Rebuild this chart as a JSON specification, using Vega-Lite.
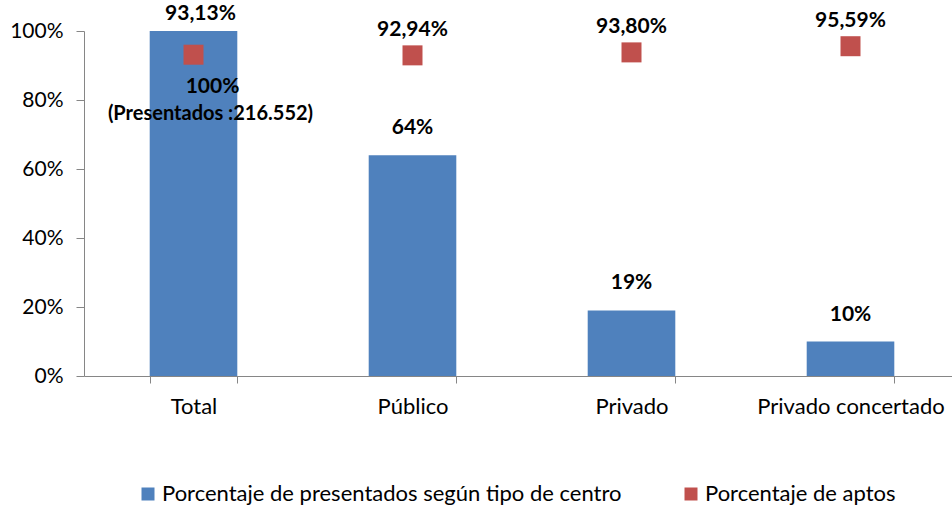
{
  "$schema": "https://vega.github.io/schema/vega-lite/v6.json",
  "width": 876,
  "height": 345,
  "autosize": {"type": "none"},
  "padding": {"left": 84, "top": 31, "right": 0, "bottom": 135},
  "background": "white",
  "config": {
    "view": {"stroke": null},
    "font": "Lato",
    "locale": {"number": {"decimal": ",", "thousands": ".", "grouping": [3], "currency": ["", " €"]}}
  },
  "data": {
    "values": [
      {"categoria": "Total", "presentados": 1.0, "aptos": 0.9313},
      {"categoria": "Público", "presentados": 0.64, "aptos": 0.9294},
      {"categoria": "Privado", "presentados": 0.19, "aptos": 0.938},
      {"categoria": "Privado concertado", "presentados": 0.10, "aptos": 0.9559}
    ]
  },
  "encoding": {
    "x": {
      "field": "categoria", "type": "nominal", "sort": null,
      "scale": {"paddingInner": 0.6, "paddingOuter": 0.3},
      "axis": {"title": null, "labelAngle": 0, "labelFontSize": 22, "labelLimit": 400, "labelColor": "#000000", "domainColor": "#868686", "tickColor": "#868686", "tickBand": "extent", "tickSize": 7, "labelPadding": 13}
    }
  },
  "layer": [
    {
      "mark": {"type": "bar", "color": "#4F81BD"},
      "encoding": {
        "y": {"field": "presentados", "type": "quantitative", "scale": {"domain": [0, 1], "nice": false},
          "axis": {"title": null, "values": [0, 0.2, 0.4, 0.6, 0.8, 1], "format": ".0%", "grid": false, "labelFontSize": 21, "labelColor": "#000000", "domainColor": "#868686", "tickColor": "#868686", "tickSize": 8, "labelPadding": 13}},
        "color": {"datum": "Porcentaje de presentados según tipo de centro", "type": "nominal",
          "scale": {"domain": ["Porcentaje de presentados según tipo de centro", "Porcentaje de aptos"], "range": ["#4F81BD", "#C0504D"]},
          "legend": {"title": null, "orient": "none", "legendX": 53, "legendY": 452, "direction": "horizontal", "symbolType": "square", "symbolSize": 169, "symbolStrokeWidth": 0, "labelFontSize": 22, "labelColor": "#000000", "labelOffset": 3, "columnPadding": 58, "labelLimit": 600}}
      }
    },
    {
      "mark": {"type": "point", "shape": "square", "filled": true, "size": 400, "opacity": 1},
      "encoding": {
        "y": {"field": "aptos", "type": "quantitative"},
        "color": {"datum": "Porcentaje de aptos", "type": "nominal"}
      }
    },
    {
      "transform": [{"filter": "datum.categoria !== 'Total'"}],
      "mark": {"type": "text", "fontWeight": "bold", "fontSize": 21, "dy": -27, "baseline": "middle"},
      "encoding": {
        "y": {"field": "presentados", "type": "quantitative"},
        "text": {"field": "presentados", "type": "quantitative", "format": ".0%"}
      }
    },
    {
      "transform": [{"filter": "datum.categoria !== 'Total'"}],
      "mark": {"type": "text", "fontWeight": "bold", "fontSize": 21, "dy": -25, "baseline": "middle"},
      "encoding": {
        "y": {"field": "aptos", "type": "quantitative"},
        "text": {"field": "aptos", "type": "quantitative", "format": ".2%"}
      }
    },
    {
      "transform": [{"filter": "datum.categoria === 'Total'"}],
      "mark": {"type": "text", "fontWeight": "bold", "fontSize": 21, "dy": -41, "dx": 7, "baseline": "middle"},
      "encoding": {
        "y": {"field": "aptos", "type": "quantitative"},
        "text": {"field": "aptos", "type": "quantitative", "format": ".2%"}
      }
    },
    {
      "transform": [{"filter": "datum.categoria === 'Total'"}],
      "mark": {"type": "text", "fontWeight": "bold", "fontSize": 21, "dy": 56, "dx": 19, "baseline": "middle"},
      "encoding": {
        "y": {"field": "presentados", "type": "quantitative"},
        "text": {"field": "presentados", "type": "quantitative", "format": ".0%"}
      }
    },
    {
      "transform": [{"filter": "datum.categoria === 'Total'"}],
      "mark": {"type": "text", "fontWeight": "bold", "fontSize": 20, "dy": 83, "dx": 17, "baseline": "middle"},
      "encoding": {
        "y": {"field": "presentados", "type": "quantitative"},
        "text": {"value": "(Presentados :216.552)"}
      }
    }
  ]
}
